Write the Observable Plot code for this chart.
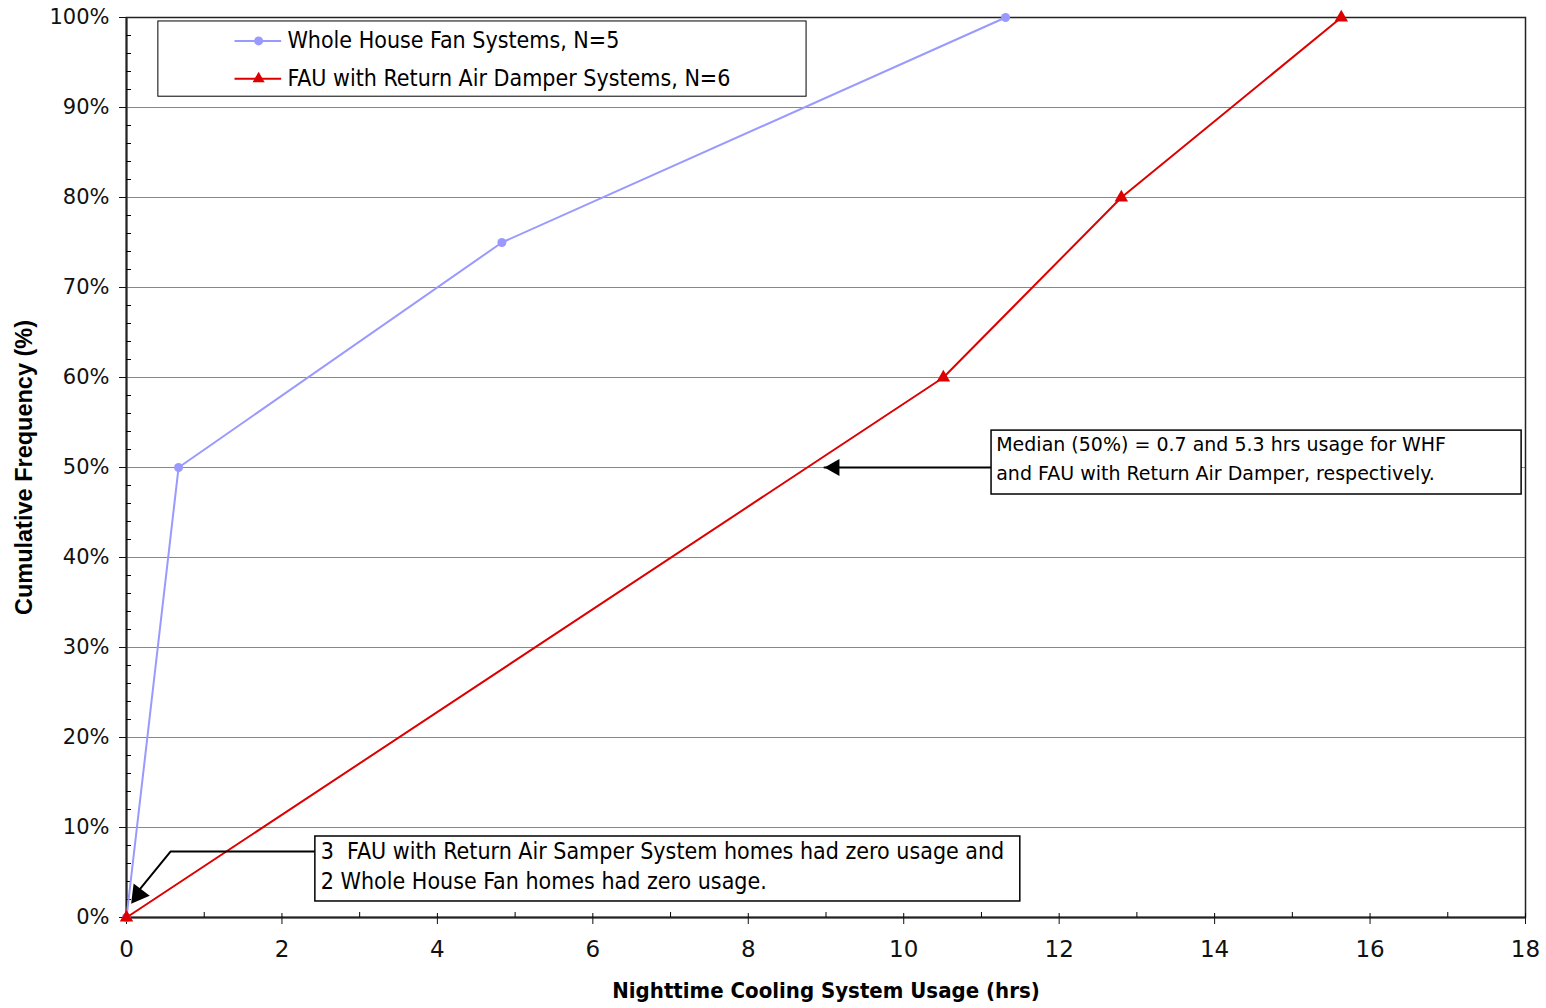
<!DOCTYPE html>
<html>
<head>
<meta charset="utf-8">
<script src="https://cdn.jsdelivr.net/npm/d3@7"></script>
<script src="https://cdn.jsdelivr.net/npm/@observablehq/plot@0.6"></script>
<style>
  html, body { margin: 0; padding: 0; background: #fff; }
  #chart svg { display: block; }
</style>
</head>
<body>
<div id="chart"></div>
<script>
// ---- Data ----
const whfHours = [0, 0.67, 4.83, 11.31];
const whfFreq = [0, 50, 75, 100];
const fauHours = [0, 10.51, 12.80, 15.63];
const fauFreq = [0, 60, 80, 100];

const seriesNames = ["Whole House Fan Systems, N=5", "FAU with Return Air Damper Systems, N=6"];
const seriesColors = ["#9999ff", "#dd0000"];

const xMajorTicks = [0, 2, 4, 6, 8, 10, 12, 14, 16, 18];
const xMinorTicks = [1, 3, 5, 7, 9, 11, 13, 15, 17];
const yMajorTicks = [0, 10, 20, 30, 40, 50, 60, 70, 80, 90, 100];
const yMinorTicks = d3.range(0, 101, 2).filter(d => d % 10 !== 0);

const xTitle = "Nighttime Cooling System Usage (hrs)";
const yTitle = "Cumulative Frequency (%)";

// annotation texts and their anchor points (data units)
const medianLines = ["Median (50%) = 0.7 and 5.3 hrs usage for WHF", "and FAU with Return Air Damper, respectively."];
const zeroLines = ["3  FAU with Return Air Samper System homes had zero usage and", "2 Whole House Fan homes had zero usage."];

const legendBox = [{x1: 0.41, x2: 8.75, y1: 91.2, y2: 99.56}];
const legendRows = [{name: seriesNames[0], color: seriesColors[0], y: 97.4, x1: 1.39, x2: 1.99, xm: 1.70, xt: 2.07, symbol: "circle"},
                    {name: seriesNames[1], color: seriesColors[1], y: 93.2, x1: 1.39, x2: 1.99, xm: 1.70, xt: 2.07, symbol: "triangle"}];

const medianBox = [{x1: 11.13, x2: 17.95, y1: 47.0, y2: 54.1}];
const medianText = [{t: medianLines[0], x: 11.19, y: 52.5}, {t: medianLines[1], x: 11.19, y: 49.3}];
const medianLeader = [{x: 11.13, y: 50}, {x: 8.98, y: 50}];

const zeroBox = [{x1: 2.43, x2: 11.50, y1: 1.78, y2: 9.0}];
const zeroText = [{t: zeroLines[0], x: 2.50, y: 7.35}, {t: zeroLines[1], x: 2.50, y: 4.0}];
const zeroLeader = [{x: 2.43, y: 7.33}, {x: 0.566, y: 7.33}, {x: 0.12, y: 2.6}];
const zeroTip = [{x: 0.06, y: 1.55}];

const whf = whfHours.map((h, i) => ({x: h, y: whfFreq[i]}));
const fau = fauHours.map((h, i) => ({x: h, y: fauFreq[i]}));

const tickFont = "DejaVu Sans, sans-serif";
const condFont = "'DejaVu Sans Condensed', 'DejaVu Sans', sans-serif";

const chart = Plot.plot({
  width: 1546,
  height: 1008,
  marginLeft: 126,
  marginRight: 21,
  marginTop: 17,
  marginBottom: 91,
  style: {fontFamily: tickFont, background: "#fff"},
  x: {domain: [0, 18]},
  y: {domain: [0, 100]},
  marks: [
    // gridlines
    Plot.ruleY(yMajorTicks.filter(d => d > 0 && d < 100), {stroke: "#888", strokeWidth: 1}),
    // frame
    Plot.frame({stroke: "#222", strokeWidth: 1.5}),
    Plot.ruleX([0], {stroke: "#222", strokeWidth: 2}),
    Plot.ruleY([0], {stroke: "#222", strokeWidth: 2}),
    // axes
    Plot.axisY({ticks: yMajorTicks, tickSize: 7, tickPadding: 10, tickFormat: d => d + "%", fontSize: 21, color: "#111", label: null}),
    Plot.axisY({ticks: yMinorTicks, tickSize: -5, tickFormat: () => "", label: null}),
    Plot.axisX({ticks: xMajorTicks, tickSize: 7, tickPadding: 16, tickFormat: d => d, fontSize: 23, color: "#111", label: null}),
    Plot.axisX({ticks: xMajorTicks, tickSize: -4, tickFormat: () => "", label: null}),
    Plot.axisX({ticks: xMinorTicks, tickSize: -5, tickFormat: () => "", label: null}),
    // axis titles
    Plot.text([yTitle], {frameAnchor: "left", textAnchor: "middle", dx: -102, rotate: -90, text: d => d, fontSize: 23.5, fontWeight: "bold", fontFamily: "'Liberation Sans', Arial, sans-serif", fill: "#000"}),
    Plot.text([xTitle], {frameAnchor: "bottom", dy: 80, text: d => d, fontSize: 22, fontWeight: "bold", fontFamily: condFont, fill: "#000"}),
    // series
    Plot.line(whf, {x: "x", y: "y", stroke: seriesColors[0], strokeWidth: 2}),
    Plot.dot(whf, {x: "x", y: "y", fill: seriesColors[0], r: 4.5, symbol: "circle"}),
    Plot.line(fau, {x: "x", y: "y", stroke: seriesColors[1], strokeWidth: 2}),
    Plot.dot(fau, {x: "x", y: "y", fill: seriesColors[1], r: 5, symbol: "triangle"}),
    // legend
    Plot.rect(legendBox, {x1: "x1", x2: "x2", y1: "y1", y2: "y2", fill: "#fff", stroke: "#000", strokeWidth: 1}),
    Plot.link(legendRows, {x1: "x1", x2: "x2", y1: "y", y2: "y", stroke: "color", strokeWidth: 2}),
    Plot.dot(legendRows, {x: "xm", y: "y", fill: "color", r: 4.5, symbol: "symbol"}),
    Plot.text(legendRows, {x: "xt", y: "y", text: "name", textAnchor: "start", fontSize: 23, fontFamily: condFont, fill: "#000"}),
    // median annotation
    Plot.line(medianLeader, {x: "x", y: "y", stroke: "#000", strokeWidth: 2}),
    Plot.dot([medianLeader[1]], {x: "x", y: "y", symbol: "triangle", r: 6.4, fill: "#000", rotate: -90, dx: 10}),
    Plot.rect(medianBox, {x1: "x1", x2: "x2", y1: "y1", y2: "y2", fill: "#fff", stroke: "#000", strokeWidth: 1.5}),
    Plot.text(medianText, {x: "x", y: "y", text: "t", textAnchor: "start", fontSize: 19, fontFamily: tickFont, fill: "#000"}),
    // zero-usage annotation
    Plot.line(zeroLeader, {x: "x", y: "y", stroke: "#000", strokeWidth: 2}),
    Plot.dot(zeroTip, {x: "x", y: "y", symbol: "triangle", r: 7.5, fill: "#000", rotate: 217, dx: 7, dy: -9.2}),
    Plot.rect(zeroBox, {x1: "x1", x2: "x2", y1: "y1", y2: "y2", fill: "#fff", stroke: "#000", strokeWidth: 1.5}),
    Plot.text(zeroText, {x: "x", y: "y", text: "t", textAnchor: "start", fontSize: 23, fontFamily: condFont, fill: "#000"})
  ]
});
document.getElementById("chart").appendChild(chart);
</script>
</body>
</html>
